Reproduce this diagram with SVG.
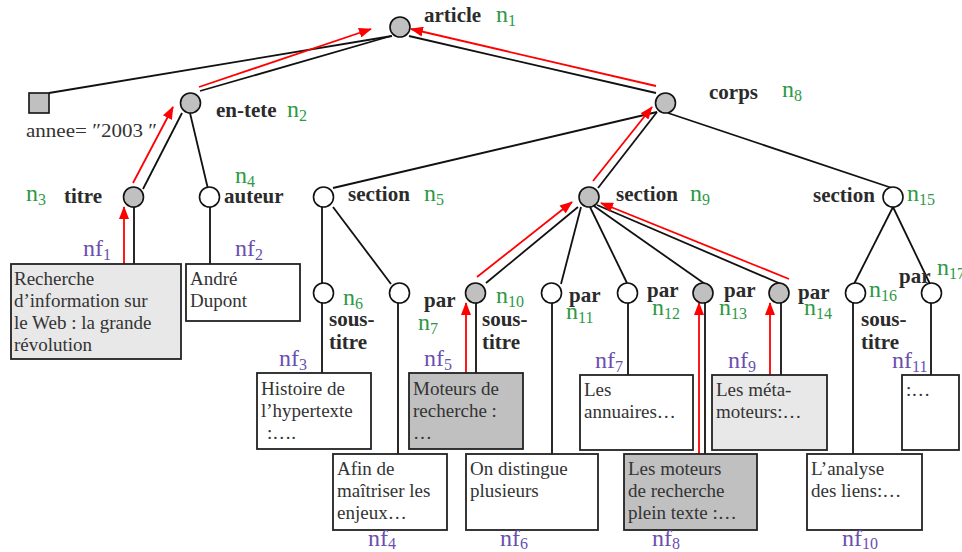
<svg xmlns="http://www.w3.org/2000/svg" width="962" height="552" viewBox="0 0 962 552">
<style>
.bg{fill:#fff}
.c{stroke:#111;stroke-width:1.6}
.cg{fill:#c0c0c0}
.cw{fill:#fff}
.e{stroke:#111;stroke-width:1.8;fill:none}
.r{stroke:#f00;stroke-width:1.8;fill:none;marker-end:url(#ah)}
.bx{stroke:#222;stroke-width:1.8}
.lb{font-family:"Liberation Serif",serif;font-weight:bold;font-size:21px;fill:#2b2b2b}
.g{font-family:"Liberation Serif",serif;font-size:24px;fill:#2e9946}
.p{font-family:"Liberation Serif",serif;font-size:24px;fill:#6a4fb0}
.t{font-family:"Liberation Serif",serif;font-size:19px;fill:#333}
.sub{font-size:16px}
</style>
<defs>
<marker id="ah" markerWidth="13" markerHeight="10" refX="12" refY="5" orient="auto" markerUnits="userSpaceOnUse"><path d="M0,0 L13,5 L0,10 z" fill="#f00"/></marker>
</defs>
<rect class="bg" x="0" y="0" width="962" height="552"/>
<g id="connectors">
<line class="e" x1="392" y1="36" x2="49" y2="93"/>
<line class="e" x1="391" y1="36" x2="200" y2="91"/>
<line class="e" x1="409" y1="36" x2="656" y2="93"/>
<line class="e" x1="182" y1="113" x2="143" y2="189"/>
<line class="e" x1="190" y1="113" x2="208" y2="189"/>
<line class="e" x1="134" y1="207" x2="134" y2="264"/>
<line class="e" x1="210" y1="207" x2="210" y2="264"/>
<line class="e" x1="657" y1="112" x2="333" y2="188"/>
<line class="e" x1="657" y1="112" x2="598" y2="188"/>
<line class="e" x1="668" y1="113" x2="892" y2="188"/>
<line class="e" x1="322" y1="207" x2="322" y2="283"/>
<line class="e" x1="333" y1="207" x2="391" y2="284"/>
<line class="e" x1="322" y1="302" x2="322" y2="376"/>
<line class="e" x1="398" y1="302" x2="398" y2="454"/>
<line class="e" x1="578" y1="207" x2="486" y2="283"/>
<line class="e" x1="581" y1="207" x2="561" y2="284"/>
<line class="e" x1="590" y1="207" x2="627" y2="283"/>
<line class="e" x1="594" y1="206" x2="705" y2="284"/>
<line class="e" x1="597" y1="205" x2="781" y2="284"/>
<line class="e" x1="893" y1="207" x2="854" y2="284"/>
<line class="e" x1="893" y1="207" x2="930" y2="284"/>
<line class="e" x1="476" y1="302" x2="476" y2="375"/>
<line class="e" x1="552" y1="302" x2="552" y2="454"/>
<line class="e" x1="628" y1="302" x2="628" y2="377"/>
<line class="e" x1="705" y1="302" x2="705" y2="454"/>
<line class="e" x1="781" y1="302" x2="781" y2="377"/>
<line class="e" x1="853" y1="302" x2="853" y2="454"/>
<line class="e" x1="931" y1="302" x2="931" y2="377"/>
<line class="r" x1="199" y1="87" x2="371" y2="29"/>
<line class="r" x1="656" y1="86" x2="411" y2="29"/>
<line class="r" x1="133" y1="183" x2="173" y2="107"/>
<line class="r" x1="124" y1="264" x2="124" y2="207"/>
<line class="r" x1="593" y1="181" x2="652" y2="107"/>
<line class="r" x1="477" y1="277" x2="572" y2="202"/>
<line class="r" x1="789" y1="279" x2="601" y2="203"/>
<line class="r" x1="466" y1="373" x2="466" y2="303"/>
<line class="r" x1="699" y1="454" x2="699" y2="303"/>
<line class="r" x1="770" y1="375" x2="770" y2="303"/>
</g>
<g id="n1"><circle class="c cg" cx="400" cy="27" r="10"/><text class="lb" x="424" y="22">article</text><text class="g" x="496" y="22">n<tspan class="sub" dy="4">1</tspan></text></g>
<g id="annee"><rect class="c cg" x="29" y="93" width="20" height="20"/><text class="t" x="26" y="137" font-size="21" textLength="131" lengthAdjust="spacingAndGlyphs">annee= ″2003 ″</text></g>
<g id="n2"><circle class="c cg" cx="190.5" cy="103" r="10"/><text class="lb" x="216" y="117">en-tete</text><text class="g" x="287" y="117">n<tspan class="sub" dy="4">2</tspan></text></g>
<g id="n3"><circle class="c cg" cx="133.5" cy="197" r="10"/><text class="lb" x="64" y="203">titre</text><text class="g" x="26" y="201">n<tspan class="sub" dy="4">3</tspan></text></g>
<g id="n4"><circle class="c cw" cx="209.5" cy="197" r="10"/><text class="lb" x="224" y="203">auteur</text><text class="g" x="235" y="183">n<tspan class="sub" dy="4">4</tspan></text></g>
<g id="n5"><circle class="c cw" cx="323.5" cy="197" r="10"/><text class="lb" x="348" y="201">section</text><text class="g" x="424" y="201">n<tspan class="sub" dy="4">5</tspan></text></g>
<g id="n8"><circle class="c cg" cx="665.5" cy="103" r="10"/><text class="lb" x="709" y="99">corps</text><text class="g" x="782" y="97">n<tspan class="sub" dy="4">8</tspan></text></g>
<g id="n9"><circle class="c cg" cx="589" cy="197" r="10"/><text class="lb" x="616" y="201">section</text><text class="g" x="690" y="201">n<tspan class="sub" dy="4">9</tspan></text></g>
<g id="n15"><circle class="c cw" cx="893" cy="197" r="10"/><text class="lb" x="813" y="202">section</text><text class="g" x="907" y="201">n<tspan class="sub" dy="4">15</tspan></text></g>
<g id="n6"><circle class="c cw" cx="323.5" cy="293" r="10"/><text class="g" x="343" y="305">n<tspan class="sub" dy="4">6</tspan></text><text class="lb" x="329" y="326">sous-</text><text class="lb" x="329" y="349">titre</text></g>
<g id="n7"><circle class="c cw" cx="399.5" cy="293" r="10"/><text class="lb" x="424" y="307">par</text><text class="g" x="418" y="330">n<tspan class="sub" dy="4">7</tspan></text></g>
<g id="n10"><circle class="c cg" cx="475.5" cy="293" r="10"/><text class="g" x="496" y="303">n<tspan class="sub" dy="4">10</tspan></text><text class="lb" x="482" y="326">sous-</text><text class="lb" x="482" y="349">titre</text></g>
<g id="n11"><circle class="c cw" cx="551.5" cy="293" r="10"/><text class="lb" x="569" y="302">par</text><text class="g" x="566" y="319">n<tspan class="sub" dy="4">11</tspan></text></g>
<g id="n12"><circle class="c cw" cx="627.5" cy="293" r="10"/><text class="lb" x="647" y="297">par</text><text class="g" x="652" y="315">n<tspan class="sub" dy="4">12</tspan></text></g>
<g id="n13"><circle class="c cg" cx="703" cy="293" r="10"/><text class="lb" x="724" y="297">par</text><text class="g" x="719" y="315">n<tspan class="sub" dy="4">13</tspan></text></g>
<g id="n14"><circle class="c cg" cx="779" cy="293" r="10"/><text class="lb" x="798" y="299">par</text><text class="g" x="804" y="315">n<tspan class="sub" dy="4">14</tspan></text></g>
<g id="n16"><circle class="c cw" cx="855.5" cy="293" r="10"/><text class="g" x="869" y="297">n<tspan class="sub" dy="4">16</tspan></text><text class="lb" x="861" y="326">sous-</text><text class="lb" x="861" y="349">titre</text></g>
<g id="n17"><text class="lb" x="899" y="283">par</text><circle class="c cw" cx="931.5" cy="293" r="10"/><text class="g" x="937" y="275">n<tspan class="sub" dy="4">17</tspan></text></g>
<g id="nf1"><rect class="bx" x="11" y="264" width="170" height="95" fill="#e8e8e8"/><text class="t" x="14" y="285">Recherche</text><text class="t" x="14" y="307">d’information sur</text><text class="t" x="14" y="329">le Web : la grande</text><text class="t" x="14" y="351">révolution</text><text class="p" x="83" y="256">nf<tspan class="sub" dy="4">1</tspan></text></g>
<g id="nf2"><rect class="bx" x="186" y="264" width="114" height="57" fill="#fff"/><text class="t" x="190" y="285">André</text><text class="t" x="190" y="307">Dupont</text><text class="p" x="235" y="256">nf<tspan class="sub" dy="4">2</tspan></text></g>
<g id="nf3"><rect class="bx" x="257" y="373" width="114" height="76" fill="#fff"/><text class="t" x="261" y="395">Histoire de</text><text class="t" x="261" y="417">l’hypertexte</text><text class="t" x="267" y="439">:….</text><text class="p" x="279" y="366">nf<tspan class="sub" dy="4">3</tspan></text></g>
<g id="nf4"><rect class="bx" x="333" y="454" width="114" height="76" fill="#fff"/><text class="t" x="337" y="475">Afin de</text><text class="t" x="337" y="497">maîtriser les</text><text class="t" x="337" y="519">enjeux…</text><text class="p" x="368" y="546">nf<tspan class="sub" dy="3">4</tspan></text></g>
<g id="nf5"><rect class="bx" x="409" y="373" width="114" height="76" fill="#c0c0c0"/><text class="t" x="413" y="395">Moteurs de</text><text class="t" x="413" y="417">recherche :</text><text class="t" x="413" y="439">…</text><text class="p" x="424" y="366">nf<tspan class="sub" dy="4">5</tspan></text></g>
<g id="nf6"><rect class="bx" x="466" y="454" width="132" height="76" fill="#fff"/><text class="t" x="470" y="475">On distingue</text><text class="t" x="470" y="497">plusieurs</text><text class="p" x="500" y="546">nf<tspan class="sub" dy="3">6</tspan></text></g>
<g id="nf7"><rect class="bx" x="580" y="375" width="113" height="75" fill="#fff"/><text class="t" x="584" y="396">Les</text><text class="t" x="584" y="418">annuaires…</text><text class="p" x="595" y="368">nf<tspan class="sub" dy="4">7</tspan></text></g>
<g id="nf8"><rect class="bx" x="624" y="454" width="133" height="76" fill="#c0c0c0"/><text class="t" x="628" y="475">Les moteurs</text><text class="t" x="628" y="497">de recherche</text><text class="t" x="628" y="519">plein texte :…</text><text class="p" x="652" y="546">nf<tspan class="sub" dy="3">8</tspan></text></g>
<g id="nf9"><rect class="bx" x="712" y="375" width="115" height="75" fill="#e8e8e8"/><text class="t" x="716" y="396">Les méta-</text><text class="t" x="716" y="418">moteurs:…</text><text class="p" x="728" y="368">nf<tspan class="sub" dy="4">9</tspan></text></g>
<g id="nf10"><rect class="bx" x="807" y="454" width="115" height="76" fill="#fff"/><text class="t" x="811" y="475">L’analyse</text><text class="t" x="811" y="497">des liens:…</text><text class="p" x="842" y="546">nf<tspan class="sub" dy="3">10</tspan></text></g>
<g id="nf11"><rect class="bx" x="902" y="375" width="57" height="75" fill="#fff"/><text class="t" x="906" y="396">:…</text><text class="p" x="892" y="368">nf<tspan class="sub" dy="4">11</tspan></text></g>
</svg>
